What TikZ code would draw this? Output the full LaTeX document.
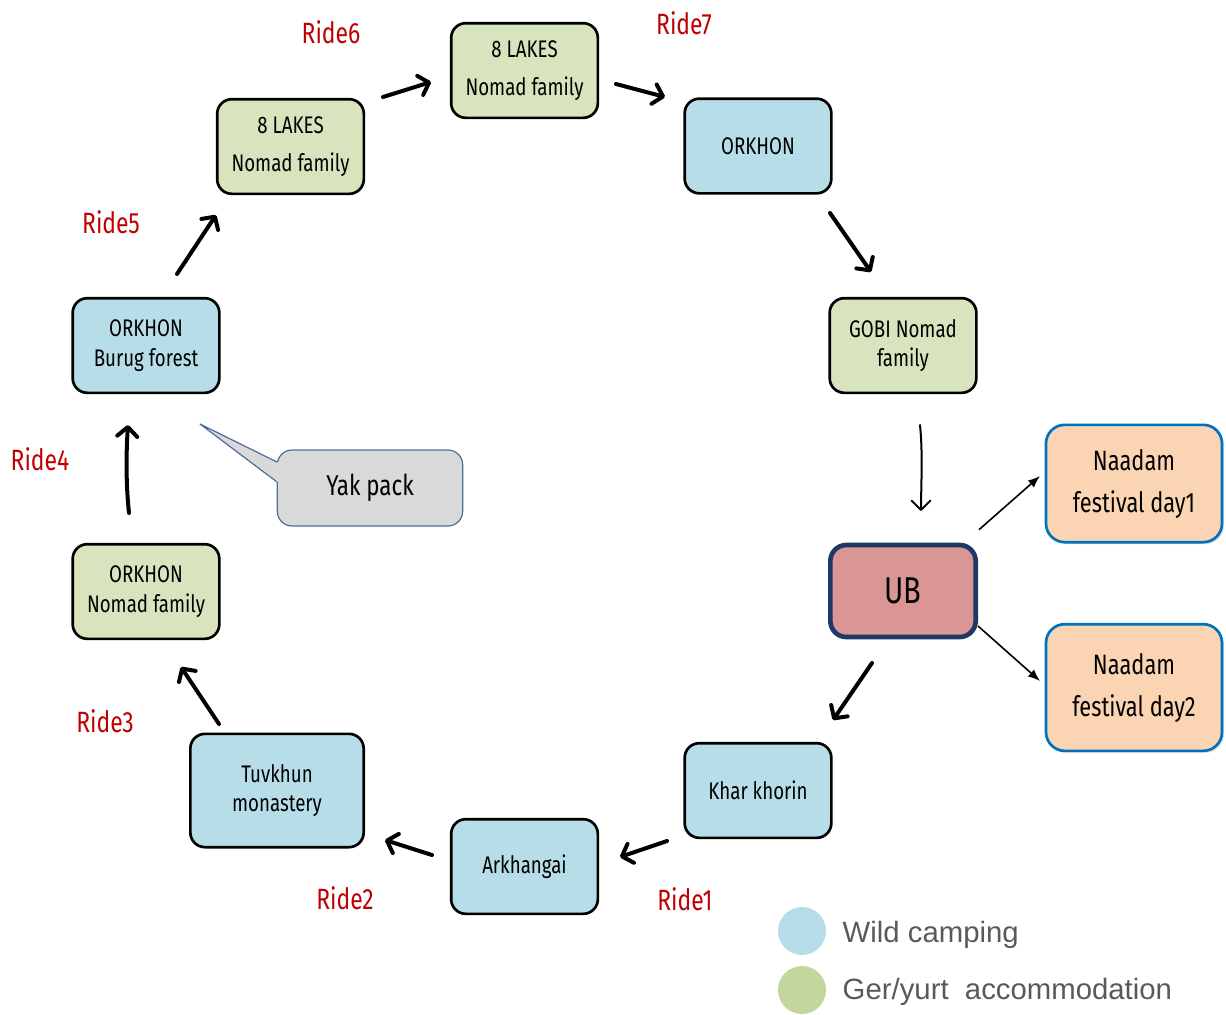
\documentclass[tikz,border=0pt]{standalone}
\usepackage{fontspec}
\setmainfont{Fira Sans}[FakeStretch=0.78]
\newfontfamily\legendfont{Liberation Sans}
\usetikzlibrary{arrows.meta,shadows}

\definecolor{campblue}{HTML}{B7DDE8}
\definecolor{gergreen}{HTML}{D7E4BD}
\definecolor{legendgreen}{HTML}{C3D69B}
\definecolor{ubfill}{HTML}{D99694}
\definecolor{ubline}{HTML}{1F3864}
\definecolor{festfill}{HTML}{FBD4B4}
\definecolor{festline}{HTML}{0070C0}
\definecolor{yakfill}{HTML}{D9D9D9}
\definecolor{yakline}{HTML}{4F6D9A}
\definecolor{ridered}{HTML}{C00000}
\definecolor{legendgray}{HTML}{595959}

\tikzset{
  stop/.style={draw=black,line width=2pt,rounded corners=11pt,align=center,
    font=\fontsize{18}{22}\selectfont,minimum width=110pt,minimum height=71pt,inner sep=2pt},
  camp/.style={stop,fill=campblue},
  ger/.style={stop,fill=gergreen},
  ridelabel/.style={text=ridered,font=\fontsize{22}{26}\selectfont},
  trek/.style={line width=3pt,line cap=round,
    -{Straight Barb[length=7pt,width=15pt,line width=3pt,round]}},
  drift/.style={line width=1.5pt,line cap=round,
    -{Straight Barb[length=7pt,width=14pt,line width=1.5pt,round]}},
  hop/.style={line width=1.2pt,-{Latex[length=9pt,width=7pt]}},
  fest/.style={draw=festline,fill=festfill,line width=2pt,rounded corners=14pt,
    align=center,font=\fontsize{21}{31.5}\selectfont,minimum width=132pt,
    drop shadow={shadow xshift=1.5pt,shadow yshift=-1.5pt,opacity=0.25}},
  key/.style={anchor=west,text=legendgray,font=\legendfont\fontsize{22}{26}\selectfont}
}

\begin{document}
\begin{tikzpicture}[x=0.75pt,y=-0.75pt]
\useasboundingbox (0,0) rectangle (1226,1014);

% stops round the loop
\node[ger,font=\fontsize{18}{28.5}\selectfont] (lakesB) at (524.5,70.5) {8 LAKES\\Nomad family};
\node[ger,font=\fontsize{18}{28.5}\selectfont] (lakesA) at (290.5,146.5) {8 LAKES\\Nomad family};
\node[camp] (orkhonN) at (758,146) {ORKHON};
\node[ger] (gobi) at (903,345.5) {GOBI Nomad\\family};
\node[draw=ubline,fill=ubfill,line width=3.5pt,rounded corners=12pt,minimum width=109pt,
  minimum height=69pt,font=\fontsize{28}{32}\selectfont,
  drop shadow={shadow xshift=1pt,shadow yshift=-1pt,opacity=0.2}] (ub) at (903,591) {UB};
\node[fest,minimum height=88pt] (naadamA) at (1134,483.5) {Naadam\\festival day1};
\node[fest,minimum height=95pt] (naadamB) at (1134,687.5) {Naadam\\festival day2};
\node[camp] (khar) at (758,790.5) {Khar khorin};
\node[camp] (arkh) at (524.5,866.5) {Arkhangai};
\node[camp,minimum width=130pt,minimum height=85pt] (tuvkhun) at (277,790.5) {Tuvkhun\\monastery};
\node[ger] (orkhonF) at (146,591.5) {ORKHON\\Nomad family};
\node[camp] (burug) at (146,345.5) {ORKHON\\Burug forest};

% yak pack call-out
\node[draw=yakline,fill=yakfill,line width=0.9pt,rounded corners=11pt,minimum width=139pt,
  minimum height=57pt,font=\fontsize{21.5}{24}\selectfont] (yak) at (370,488) {Yak pack};
\coordinate (yaktip) at (200,424);
\coordinate (yakbaseA) at (277,462);
\coordinate (yakbaseB) at (277,482);
\fill[yakfill] (yaktip) -- (yakbaseA) -- (280,462) -- (280,482) -- (yakbaseB) -- cycle;
\draw[yakline,line width=0.9pt,line join=round] (yakbaseA) -- (yaktip) -- (yakbaseB);

% ride arrows
\coordinate (r6s) at (383,97);   \coordinate (r6e) at (431,82);
\coordinate (r7s) at (616,84);   \coordinate (r7e) at (665,97);
\coordinate (r8s) at (830,213);  \coordinate (r8e) at (871,272);
\coordinate (r9s) at (920,425);  \coordinate (r9e) at (921,511);
\coordinate (r1s) at (872,663);  \coordinate (r1e) at (833,720);
\coordinate (r2s) at (667,841);  \coordinate (r2e) at (620,857);
\coordinate (r3s) at (432,855);  \coordinate (r3e) at (385,840);
\coordinate (r4s) at (219,724);  \coordinate (r4e) at (181,667);
\coordinate (r5s) at (129,513);  \coordinate (r5e) at (128,425);
\coordinate (r10s) at (177,274); \coordinate (r10e) at (216,215);
\draw[trek] (r6s) -- (r6e);
\draw[trek] (r7s) -- (r7e);
\draw[trek] (r8s) -- (r8e);
\draw[drift] (r9s) .. controls (923,455) and (921,485) .. (r9e);
\draw[trek] (r1s) -- (r1e);
\draw[trek] (r2s) -- (r2e);
\draw[trek] (r3s) -- (r3e);
\draw[trek] (r4s) -- (r4e);
\draw[trek] (r5s) .. controls (126,485) and (126,455) .. (r5e);
\draw[trek] (r10s) -- (r10e);

% festival side trips
\draw[hop] (ub.north east) ++(1,-13) coordinate (f1s) -- (1040,476) coordinate (f1e);
\draw[hop] (ub.east) ++(0,35) coordinate (f2s) -- (1040,681) coordinate (f2e);

% ride labels
\node[ridelabel] (ride1) at (685,899) {Ride1};
\node[ridelabel] (ride2) at (345,898) {Ride2};
\node[ridelabel] (ride3) at (105,721) {Ride3};
\node[ridelabel] (ride4) at (40,459) {Ride4};
\node[ridelabel] (ride5) at (111,222) {Ride5};
\node[ridelabel] (ride6) at (331,32) {Ride6};
\node[ridelabel] (ride7) at (684,23) {Ride7};

% legend
\fill[campblue] (802,931) circle (24);
\fill[legendgreen] (802,990) circle (24);
\node[key] (wild) at (838,935) {Wild camping};
\node[key] (yurt) at (838,992) {Ger/yurt\ \ accommodation};
\end{tikzpicture}
\end{document}
